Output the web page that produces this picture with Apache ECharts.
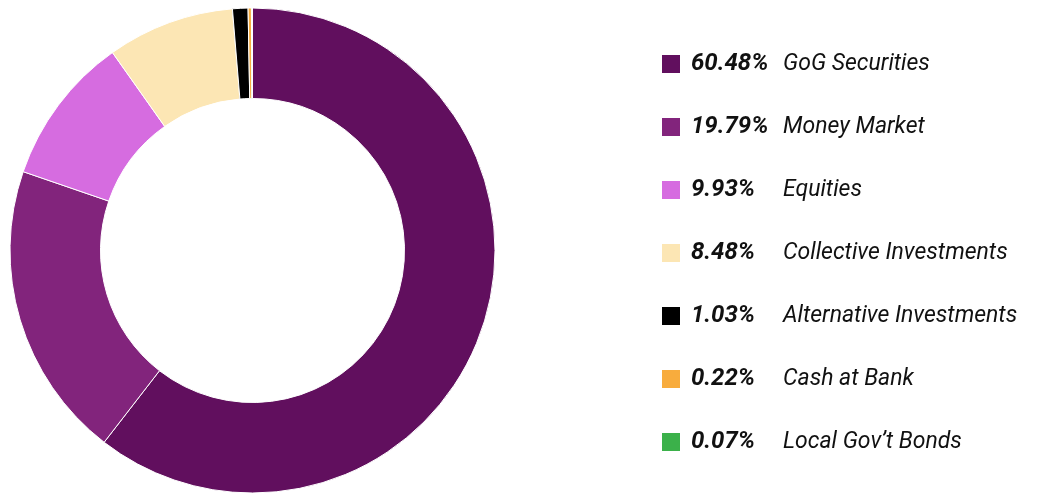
<!DOCTYPE html>
<html>
<head>
<meta charset="utf-8">
<script src="https://cdn.jsdelivr.net/npm/echarts@6/dist/echarts.min.js"></script>
<style>
html,body{margin:0;padding:0;background:#fff;}
#chart{width:1038px;height:493px;}
</style>
</head>
<body>
<div id="chart"></div>
<script>
const categories = ['GoG Securities','Money Market','Equities','Collective Investments','Alternative Investments','Cash at Bank','Local Gov\u2019t Bonds'];
const values = [60.48, 19.79, 9.93, 8.48, 1.03, 0.22, 0.07];
const colors = ['#610f5e','#82247c','#d66ce0','#fce6b4','#000000','#f8ac3d','#3bb14a'];

const chart = echarts.init(document.getElementById('chart'), null, {renderer:'canvas'});
const valueByName = {};
categories.forEach((c,i)=>{ valueByName[c] = values[i]; });

chart.setOption({
  animation: false,
  color: colors,
  legend: {
    orient: 'vertical',
    left: 662,
    top: 52,
    padding: 0,
    icon: 'rect',
    itemWidth: 18,
    itemHeight: 18,
    itemGap: 39,
    itemStyle: {borderWidth: 0},
    selectedMode: false,
    data: categories,
    formatter: function(name){
      return '{p|' + valueByName[name].toFixed(2) + '%}{n|' + name + '}';
    },
    textStyle: {
      padding: [0,0,0,6],
      rich: {
        p: {fontFamily:'Roboto', fontStyle:'italic', fontWeight:'bold', fontSize:24, color:'#111', width:92, lineHeight:21},
        n: {fontFamily:'Roboto', fontStyle:'italic', fontWeight:'normal', fontSize:23, color:'#111', lineHeight:21}
      }
    }
  },
  series: [{
    type: 'pie',
    center: [252.5, 250.5],
    radius: [152, 242.5],
    startAngle: 90,
    clockwise: true,
    label: {show: false},
    labelLine: {show: false},
    emphasis: {disabled: true},
    itemStyle: {borderColor: '#fff', borderWidth: 1},
    data: categories.map((c,i)=>({name:c, value:values[i]}))
  }]
});
</script>
</body>
</html>
